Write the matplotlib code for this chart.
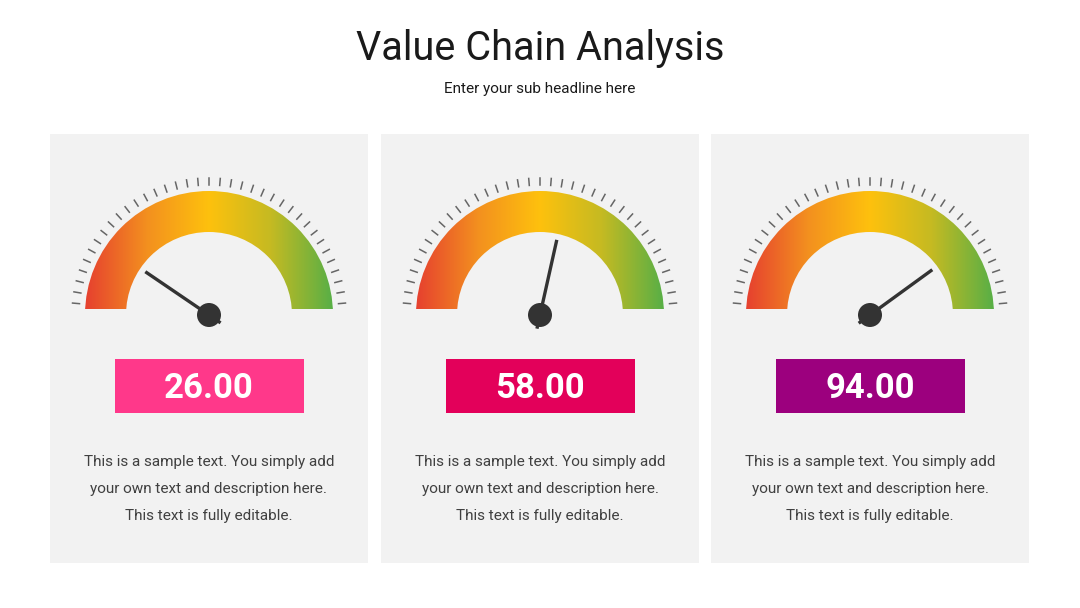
import numpy as np
import matplotlib
matplotlib.use("Agg")
import matplotlib.pyplot as plt
from matplotlib.patches import Rectangle, Wedge, Circle
from matplotlib.colors import LinearSegmentedColormap

plt.rcParams['font.family'] = ['Roboto', 'DejaVu Sans']

W, H = 1080, 608

title = "Value Chain Analysis"
subtitle = "Enter your sub headline here"
values = [26.00, 58.00, 94.00]
# where the needle actually points on a 0-100 dial
needle_readings = [19, 57, 80]
box_colors = ["#FF388A", "#E3005A", "#9C007E"]
body_lines = ["This is a sample text. You simply add",
              "your own text and description here.",
              "This text is fully editable."]

gauge_cmap = LinearSegmentedColormap.from_list(
    "gauge", [(0.0, "#E6402F"), (0.25, "#F3901F"), (0.5, "#FEC10D"),
              (0.75, "#C5BA22"), (1.0, "#58AF46")])

panel_left = [50, 381, 711]
panel_w = 318
panel_bottom, panel_top = H - 563, H - 134

fig = plt.figure(figsize=(W / 100, H / 100), dpi=100)
ax = fig.add_axes([0, 0, 1, 1])
ax.set_xlim(0, W)
ax.set_ylim(0, H)
ax.axis("off")

ax.text(W / 2, H - 49, title, ha="center", va="center", fontsize=28.5, color="#1a1a1a")
ax.text(W / 2, H - 89, subtitle, ha="center", va="center", fontsize=11, color="#1a1a1a")

r_out, r_in = 124, 83
grad = np.linspace(0, 1, 256).reshape(1, -1)

for i in range(3):
    x0 = panel_left[i]
    cx = x0 + panel_w / 2
    cy = H - 315
    ax.add_patch(Rectangle((x0, panel_bottom), panel_w, panel_top - panel_bottom,
                           facecolor="#F2F2F2", edgecolor="none", zorder=0))

    # coloured arc, cut flat a little above the pivot
    arc = Wedge((cx, cy), r_out, 0, 180, width=r_out - r_in,
                facecolor="none", edgecolor="none")
    ax.add_patch(arc)
    im = ax.imshow(grad, cmap=gauge_cmap, extent=[cx - r_out, cx + r_out, cy + 6, cy + r_out],
                   aspect="auto", zorder=1, interpolation="bilinear")
    im.set_clip_path(arc)

    # tick marks
    for a in np.radians(np.linspace(5, 175, 37)):
        ax.plot([cx + 130 * np.cos(a), cx + 137 * np.cos(a)],
                [cy + 130 * np.sin(a), cy + 137 * np.sin(a)],
                color="#666666", lw=1.1, zorder=2)

    # needle
    ang = np.radians(180 - needle_readings[i] / 100 * 180)
    ax.plot([cx - 14 * np.cos(ang), cx + 77 * np.cos(ang)],
            [cy - 14 * np.sin(ang), cy + 77 * np.sin(ang)],
            color="#333333", lw=2.4, solid_capstyle="butt", zorder=3)
    ax.add_patch(Circle((cx, cy), 12, facecolor="#333333", edgecolor="none", zorder=4))

    # value box
    ax.add_patch(Rectangle((cx - 94.5, H - 413), 189, 54, facecolor=box_colors[i],
                           edgecolor="none", zorder=2))
    ax.text(cx, H - 388, f"{values[i]:.2f}", ha="center", va="center",
            fontsize=25, fontweight="bold", color="white", zorder=3)

    for k, line in enumerate(body_lines):
        ax.text(cx, H - 462 - 27 * k, line, ha="center", va="center",
                fontsize=11, color="#404040")

ax.set_xlim(0, W)
ax.set_ylim(0, H)
fig.savefig("out.png", dpi=100, facecolor="white")
